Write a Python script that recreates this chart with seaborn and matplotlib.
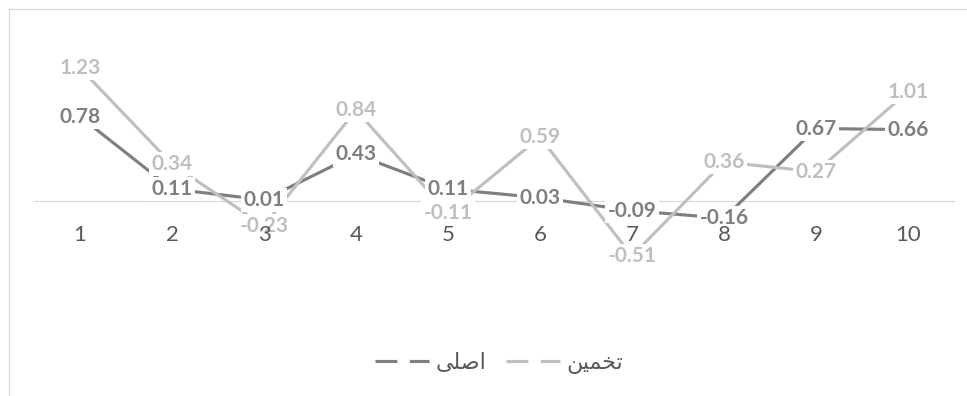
import numpy as np
import pandas as pd
import matplotlib
matplotlib.use('Agg')
import matplotlib.pyplot as plt
import seaborn as sns
from matplotlib.lines import Line2D

# data
categories = ['1', '2', '3', '4', '5', '6', '7', '8', '9', '10']
asli = [0.78, 0.11, 0.01, 0.43, 0.11, 0.03, -0.09, -0.16, 0.67, 0.66]
takhmin = [1.23, 0.34, -0.23, 0.84, -0.11, 0.59, -0.51, 0.36, 0.27, 1.01]

# series names, shaped by hand into Arabic presentation forms (visual order)
name_asli = '\ufef0\ufee0\ufebb\ufe8d'          # اصلی
name_takhmin = '\ufee6\ufef4\ufee4\ufea8\ufe97'  # تخمین

dark = '#7f7f7f'
light = '#bfbfbf'
grid_col = '#d9d9d9'
text_col = '#595959'

sns.set_style('white')
plt.rcParams['font.family'] = ['Lato', 'DejaVu Sans']

df = pd.DataFrame({'x': np.arange(1, len(categories) + 1),
                   'asli': asli,
                   'takhmin': takhmin})

fig = plt.figure(figsize=(9.67, 3.96), dpi=100)
ax = fig.add_axes([34 / 967, 87 / 396, 920 / 967, 281 / 396])

sns.lineplot(data=df, x='x', y='asli', color=dark, linewidth=2.25, ax=ax,
             solid_capstyle='butt', zorder=3)
sns.lineplot(data=df, x='x', y='takhmin', color=light, linewidth=2.25, ax=ax,
             solid_capstyle='butt', zorder=4)

# data labels centered on the points, white box hides the line under them
for series, col in [(asli, dark), (takhmin, light)]:
    for xi, v in zip(df['x'], series):
        ax.text(xi, v, f'{v:.2f}', ha='center', va='center', color=col,
                fontsize=15, fontweight='bold', zorder=6,
                bbox=dict(boxstyle='square,pad=0.1', fc='white', ec='none'))

ax.set_xlim(0.5, 10.5)
ax.set_ylim(-1.0, 1.6)
ax.set_xticks(df['x'])
ax.set_xticklabels(categories)
ax.set_yticks([])
ax.set_xlabel('')
ax.set_ylabel('')
ax.tick_params(axis='x', length=0, pad=17, labelsize=16, labelcolor=text_col)
ax.xaxis.set_zorder(7)

for s in ['top', 'right', 'left']:
    ax.spines[s].set_visible(False)
ax.spines['bottom'].set_position(('data', 0))
ax.spines['bottom'].set_color(grid_col)
ax.spines['bottom'].set_linewidth(0.9)
ax.spines['bottom'].set_zorder(1)

handles = [Line2D([], [], color=dark, linewidth=2.25, dashes=(7, 4)),
           Line2D([], [], color=light, linewidth=2.25, dashes=(7, 4))]
fig.legend(handles, [name_asli, name_takhmin], loc='center',
           bbox_to_anchor=(499 / 967, 1 - 363 / 396), ncol=2, frameon=False,
           fontsize=16, labelcolor=text_col, handlelength=2.43,
           handletextpad=0.27, columnspacing=0.9)

# chart border (left and top edges visible in the reference)
fig.add_artist(Line2D([9 / 967, 9 / 967], [0, 1 - 9 / 396], color=grid_col,
                      linewidth=0.9, transform=fig.transFigure))
fig.add_artist(Line2D([9 / 967, 1], [1 - 9 / 396, 1 - 9 / 396], color=grid_col,
                      linewidth=0.9, transform=fig.transFigure))

fig.savefig('out.png', dpi=100, facecolor='white')
